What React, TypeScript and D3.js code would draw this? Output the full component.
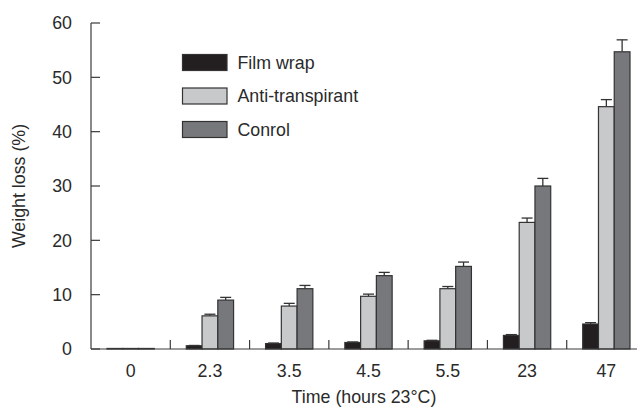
import { scaleBand, scaleLinear } from "d3";

// time points (hours at 23°C)
const categories = ["0", "2.3", "3.5", "4.5", "5.5", "23", "47"];
const seriesNames = ["Film wrap", "Anti-transpirant", "Conrol"];

const filmWrap = [0.1, 0.6, 1.0, 1.2, 1.5, 2.5, 4.6];
const filmWrapErr = [0, 0.05, 0.1, 0.1, 0.1, 0.15, 0.25];
const antiTrans = [0.1, 6.1, 7.9, 9.7, 11.1, 23.3, 44.6];
const antiTransErr = [0, 0.3, 0.5, 0.4, 0.4, 0.8, 1.3];
const control = [0.1, 9.0, 11.1, 13.5, 15.2, 30.0, 54.7];
const controlErr = [0, 0.5, 0.6, 0.6, 0.8, 1.4, 2.2];

const yTicks = [0, 10, 20, 30, 40, 50, 60];

const fills = ["#231f20", "#c8c9cb", "#77787b"];

export default function App() {
    const width = 637;
    const height = 407;
    const font = "'Liberation Sans', Arial, sans-serif";
    const axisColor = "#3a3a3a";
    const textColor = "#2a2a2a";
    const fs = 17.8;

    const x0 = scaleBand().domain(categories).range([91, 646]).padding(0);
    const x1 = scaleBand()
        .domain(seriesNames)
        .range([16, x0.bandwidth() - 16])
        .padding(0);
    const y = scaleLinear().domain([0, 60]).range([349, 23]);

    const values = [filmWrap, antiTrans, control];
    const errs = [filmWrapErr, antiTransErr, controlErr];

    const boundaries = categories.slice(1).map(c => x0(c));

    return (
        <svg
            width={width}
            height={height}
            style={{ position: "absolute", left: 0, top: 0, background: "white" }}
            fontFamily={font}
        >
            {/* bars */}
            {categories.map((c, i) => (
                <g key={c} transform={`translate(${x0(c)},0)`}>
                    {seriesNames.map((s, j) => {
                        const v = values[j][i];
                        const e = errs[j][i];
                        const bx = x1(s);
                        const bw = x1.bandwidth();
                        const cx = bx + bw / 2;
                        return (
                            <g key={s}>
                                {e > 0 && (
                                    <g stroke="#333" strokeWidth={1.3}>
                                        <line x1={cx} x2={cx} y1={y(v)} y2={y(v + e)} />
                                        <line x1={cx - 5.5} x2={cx + 5.5} y1={y(v + e)} y2={y(v + e)} />
                                    </g>
                                )}
                                <rect
                                    x={bx}
                                    y={y(v)}
                                    width={bw}
                                    height={y(0) - y(v)}
                                    fill={fills[j]}
                                    stroke="#333"
                                    strokeWidth={1.2}
                                />
                            </g>
                        );
                    })}
                </g>
            ))}

            {/* y axis */}
            <line x1={91} x2={91} y1={y(60)} y2={y(0)} stroke={axisColor} strokeWidth={1.2} />
            {yTicks.map(t => (
                <g key={t}>
                    <line x1={91} x2={100} y1={y(t)} y2={y(t)} stroke={axisColor} strokeWidth={1.2} />
                    <text
                        x={72}
                        y={y(t)}
                        dy="0.35em"
                        textAnchor="end"
                        fontSize={fs}
                        fill={textColor}
                    >
                        {t}
                    </text>
                </g>
            ))}

            {/* x axis */}
            <line x1={91} x2={646} y1={y(0)} y2={y(0)} stroke={axisColor} strokeWidth={1.2} />
            {boundaries.map((bx, i) => (
                <line key={i} x1={bx} x2={bx} y1={y(0)} y2={y(0) - 9} stroke={axisColor} strokeWidth={1.2} />
            ))}
            {categories.map(c => (
                <text
                    key={c}
                    x={x0(c) + x0.bandwidth() / 2}
                    y={371}
                    dy="0.35em"
                    textAnchor="middle"
                    fontSize={fs}
                    fill={textColor}
                >
                    {c}
                </text>
            ))}

            {/* axis titles */}
            <text
                x={364}
                y={397}
                dy="0.35em"
                textAnchor="middle"
                fontSize={fs}
                fill={textColor}
            >
                Time (hours 23°C)
            </text>
            <text
                transform={`translate(19,${y(30)}) rotate(-90)`}
                dy="0.35em"
                textAnchor="middle"
                fontSize={fs}
                fill={textColor}
            >
                Weight loss (%)
            </text>

            {/* legend */}
            {seriesNames.map((s, j) => (
                <g key={s} transform={`translate(182.5,${54.5 + j * 33.5})`}>
                    <rect width={44.5} height={16} fill={fills[j]} stroke="#333" strokeWidth={1.2} />
                    <text x={55} y={8} dy="0.35em" fontSize={fs} fill={textColor}>
                        {s}
                    </text>
                </g>
            ))}
        </svg>
    );
}
